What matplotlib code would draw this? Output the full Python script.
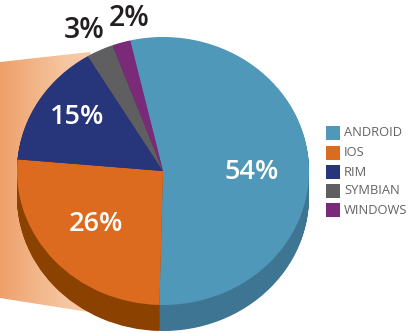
import numpy as np
import matplotlib.pyplot as plt
from matplotlib.patches import Polygon, Rectangle
from matplotlib.colors import LinearSegmentedColormap

# data
platforms = ['ANDROID', 'IOS', 'RIM', 'SYMBIAN', 'WINDOWS']
shares = [54, 26, 15, 3, 2]
labels = ['54%', '26%', '15%', '3%', '2%']
top_colors = ['#4f98b9', '#dc6b1f', '#27357b', '#5f5f62', '#7b2a7a']
side_colors = ['#3d7593', '#8b4100', '#1e2863', '#48484a', '#5e1f5e']

plt.rcParams['font.family'] = ['Open Sans', 'DejaVu Sans']

W, H = 414, 333
fig = plt.figure(figsize=(W / 100, H / 100), dpi=100)
ax = fig.add_axes([0, 0, 1, 1])

# pie geometry in pixels
cx, cy = 163, 171
rx, ry = 146, 134
depth = 26

def px(x, y):
    # pixel (from top-left) -> data units
    return ((x - cx) / rx, (cy - y) / ry)

# gradient callout behind the pie
callout = [(0, 62), (90, 52), (130, 171), (95, 313), (0, 298)]
poly = Polygon([px(x, y) for x, y in callout], closed=True, facecolor='none',
               edgecolor='none', zorder=1)
ax.add_patch(poly)
grad = np.linspace(0, 1, 256).reshape(1, -1)
cmap = LinearSegmentedColormap.from_list('c', ['#eea06a', '#f6c6a0', '#f8cfae'])
x0, _ = px(0, 0)
x1, _ = px(130, 0)
_, yb = px(0, 333)
_, yt = px(0, 0)
im = ax.imshow(grad, cmap=cmap, extent=[x0, x1, yb, yt], aspect='auto', zorder=1)
im.set_clip_path(poly)

start = 103
# 3d side: stacked pies going down
n = 40
for k in range(n, 0, -1):
    off = depth / ry * k / n
    ax.pie(shares, colors=side_colors, startangle=start, counterclock=False,
           radius=1, center=(0, -off), frame=True,
           wedgeprops=dict(linewidth=0, zorder=2))
# top face
wedges, _ = ax.pie(shares, colors=top_colors, startangle=start, counterclock=False,
                   radius=1, center=(0, 0), frame=True,
                   wedgeprops=dict(linewidth=0, zorder=3))

ax.set_aspect('auto')
ax.set_xlim(-cx / rx, (W - cx) / rx)
ax.set_ylim(-(H - cy) / ry, cy / ry)
ax.axis('off')

# percentage labels
label_pos = [(252, 172), (96, 224), (77, 117), (84, 30), (129, 18)]
label_colors = ['white', 'white', 'white', '#231f20', '#231f20']
label_sizes = [19.5, 19.5, 19.5, 20.5, 20.5]
for lab, (x, y), c, s in zip(labels, label_pos, label_colors, label_sizes):
    ax.text(*px(x, y), lab, color=c, fontsize=s, fontweight='semibold',
            ha='center', va='center', zorder=5)

# legend
leg_y = [133, 153, 172, 191, 210]
for name, col, y in zip(platforms, top_colors, leg_y):
    fig.patches.append(Rectangle((326 / W, 1 - (y + 7) / H), 14 / W, 14 / H,
                                 transform=fig.transFigure, facecolor=col,
                                 edgecolor='none'))
    fig.text(344 / W, 1 - y / H, name, color='#636363', fontsize=9.3,
             ha='left', va='center')

fig.savefig('out.png', dpi=100)
